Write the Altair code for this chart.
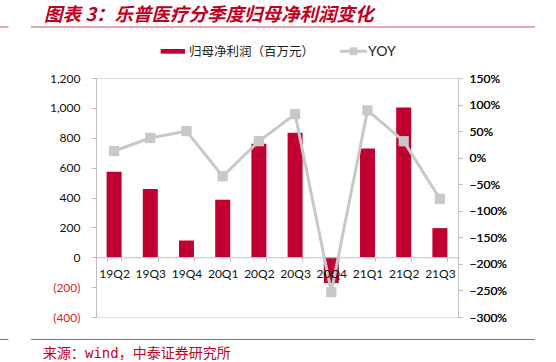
import altair as alt
import pandas as pd

quarters = ["19Q2", "19Q3", "19Q4", "20Q1", "20Q2", "20Q3", "20Q4", "21Q1", "21Q2", "21Q3"]
profit = [573, 457, 112, 385, 760, 834, -173, 728, 1002, 195]
yoy = [0.125, 0.37, 0.50, -0.35, 0.31, 0.82, -2.53, 0.89, 0.31, -0.775]

title_text = "图表 3：乐普医疗分季度归母净利润变化"
source_text = "来源：wind，中泰证券研究所"
legend_bar = "归母净利润（百万元）"
legend_line = "YOY"

W, H = 362, 239
left_domain = [-400, 1200]
right_domain = [-3.0, 1.5]
zero_offset = -H * (0 - left_domain[0]) / (left_domain[1] - left_domain[0])

RED = "#C00030"
GRAY = "#C8C8C8"
AXIS = "#BFBFBF"
DECO = "#CF5460"
TEXT_RED = "#C0001E"

df = pd.DataFrame({"q": quarters, "profit": profit, "yoy": yoy})

xenc = alt.X("q:N", sort=quarters, title=None,
             scale=alt.Scale(paddingInner=0.6, paddingOuter=0.3),
             axis=alt.Axis(orient="bottom", offset=zero_offset, labelAngle=0,
                           domainColor=AXIS, tickColor=AXIS, tickSize=4, zindex=1,
                           tickBand="extent", labelFont="Lato", labelFontSize=12,
                           labelColor="#111111", labelPadding=7))

bars = alt.Chart(df).mark_bar(color=RED, size=15).encode(
    x=xenc,
    y=alt.Y("profit:Q", title=None,
            scale=alt.Scale(domain=left_domain, nice=False, zero=False),
            axis=alt.Axis(orient="left", values=list(range(-400, 1201, 200)),
                          grid=False, domainColor=AXIS, tickColor=AXIS, tickSize=5,
                          labelPadding=11, labelFont="Lato", labelFontSize=12,
                          labelExpr="datum.value < 0 ? '(' + format(-datum.value, ',') + ')' : format(datum.value, ',')",
                          labelColor=alt.condition("datum.value < 0", alt.value("#E0202A"), alt.value("#111111")))),
)

line_base = alt.Chart(df).encode(
    x=alt.X("q:N", sort=quarters),
    y=alt.Y("yoy:Q", title=None,
            scale=alt.Scale(domain=right_domain, nice=False, zero=False),
            axis=alt.Axis(orient="right", values=[1.5, 1.0, 0.5, 0, -0.5, -1.0, -1.5, -2.0, -2.5, -3.0],
                          format=".0%", grid=False, domainColor=AXIS, tickColor=AXIS,
                          tickSize=4, labelPadding=7, labelFont="Lato", labelFontSize=12,
                          labelColor="#111111")),
)
line = line_base.mark_line(color=GRAY, strokeWidth=3)
pts = line_base.mark_point(shape="square", filled=True, color=GRAY, size=105, opacity=1)

one = pd.DataFrame({"t": [title_text]})
title = alt.Chart(one).mark_text(align="left", baseline="middle", fontSize=18.5,
                                 fontWeight="bold", fontStyle="italic",
                                 font="Noto Sans CJK SC", color=TEXT_RED).encode(
    text="t:N", x=alt.value(-52), y=alt.value(-63))

src = alt.Chart(pd.DataFrame({"t": [source_text]})).mark_text(
    align="left", baseline="middle", fontSize=14,
    font="DejaVu Sans Mono, Noto Sans CJK SC", color=TEXT_RED).encode(
    text="t:N", x=alt.value(-53), y=alt.value(276))

def rule(x1, x2, y):
    return alt.Chart(pd.DataFrame({"a": [0]})).mark_rule(color=DECO, strokeWidth=1).encode(
        x=alt.value(x1), x2=alt.value(x2), y=alt.value(y))

rules = [rule(-96, -87.5, -51), rule(-65, 439, -51), rule(-96, -87.5, 261.5), rule(-65, 439, 261.5)]

leg_rect = alt.Chart(pd.DataFrame({"a": [0]})).mark_rect(color=RED).encode(
    x=alt.value(64.7), x2=alt.value(89), y=alt.value(-29), y2=alt.value(-24.3))
leg_text = alt.Chart(pd.DataFrame({"t": [legend_bar]})).mark_text(
    align="left", baseline="middle", fontSize=12.5, font="Noto Sans CJK SC", color="#222222").encode(
    text="t:N", x=alt.value(93), y=alt.value(-26.5))
leg_line = alt.Chart(pd.DataFrame({"a": [0]})).mark_rule(color=GRAY, strokeWidth=3).encode(
    x=alt.value(244), x2=alt.value(271), y=alt.value(-26.7))
leg_pt = alt.Chart(pd.DataFrame({"a": [0]})).mark_point(shape="square", filled=True, color=GRAY,
                                                       size=60, opacity=1).encode(
    x=alt.value(257.5), y=alt.value(-26.7))
leg_text2 = alt.Chart(pd.DataFrame({"t": [legend_line]})).mark_text(
    align="left", baseline="middle", fontSize=14, font="Lato", color="#222222").encode(
    text="t:N", x=alt.value(272), y=alt.value(-26.5))

chart = alt.layer(
    bars, line, pts, title, src, *rules, leg_rect, leg_text, leg_line, leg_pt, leg_text2
).resolve_scale(y="independent").properties(
    width=W, height=H,
    autosize=alt.AutoSizeParams(type="none"),
    padding={"left": 96, "top": 78, "right": 98, "bottom": 45},
).configure_view(stroke=None).configure(background="white")

chart.save("out.html", embed_options={"renderer": "svg", "actions": False})
